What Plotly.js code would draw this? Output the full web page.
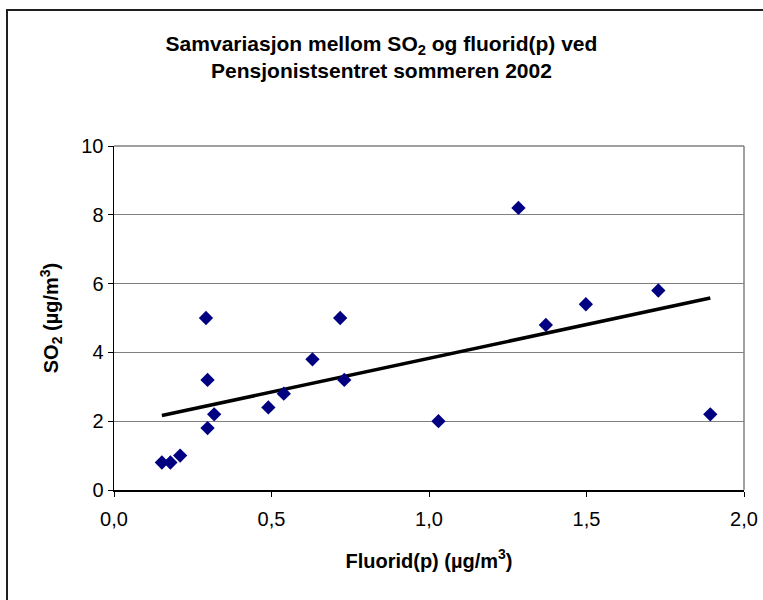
<!DOCTYPE html>
<html>
<head>
<meta charset="utf-8">
<script src="https://cdn.plot.ly/plotly-3.0.1.min.js"></script>
<style>
  html, body { margin: 0; padding: 0; background: #fff; overflow: hidden; }
  #chart { position: absolute; left: 0; top: 0; width: 763px; height: 600px; }
</style>
</head>
<body>
<div id="chart"></div>
<script>
// Fluorid(p) (µg/m3) and SO2 (µg/m3), Pensjonistsentret, sommeren 2002
const fluorid = [0.152, 0.179, 0.21, 0.292, 0.297, 0.318, 0.297, 0.49, 0.539, 0.63, 0.718, 0.731, 1.03, 1.284, 1.371, 1.498, 1.728, 1.893];
const so2     = [0.8,   0.8,   1.0,  5.0,   3.2,   2.2,   1.8,   2.4,  2.8,   3.8,  5.0,   3.2,   2.0,  8.2,   4.8,   5.4,   5.8,   2.2];

const xTickVals = [0, 0.5, 1.0, 1.5, 2.0];
const xTickText = ['0,0', '0,5', '1,0', '1,5', '2,0'];
const yTickVals = [0, 2, 4, 6, 8, 10];

// Linear trendline (least squares) computed from the data
const n = fluorid.length;
const mx = fluorid.reduce((a, b) => a + b, 0) / n;
const my = so2.reduce((a, b) => a + b, 0) / n;
let sxy = 0, sxx = 0;
for (let i = 0; i < n; i++) { sxy += (fluorid[i] - mx) * (so2[i] - my); sxx += (fluorid[i] - mx) ** 2; }
const slope = sxy / sxx, icpt = my - slope * mx;
const xMin = Math.min(...fluorid), xMax = Math.max(...fluorid);
const trendX = [xMin, xMax];
const trendY = trendX.map(v => icpt + slope * v);

const FONT = 'Liberation Sans, Arial, sans-serif';

const traces = [
  { x: trendX, y: trendY, mode: 'lines', type: 'scatter',
    line: { color: '#000000', width: 3.5 }, hoverinfo: 'skip', showlegend: false },
  { x: fluorid, y: so2, mode: 'markers', type: 'scatter',
    marker: { symbol: 'diamond', color: '#000080', size: 11, line: { width: 0 } }, showlegend: false }
];

const layout = {
  width: 763, height: 600,
  paper_bgcolor: '#ffffff', plot_bgcolor: '#ffffff',
  margin: { l: 114, r: 19, t: 146, b: 110 },
  font: { family: FONT, color: '#000000', size: 20 },
  showlegend: false,
  title: {
    text: '<b>Samvariasjon mellom SO<sub>2</sub> og fluorid(p) ved<br>Pensjonistsentret sommeren 2002</b>',
    font: { family: FONT, size: 21, color: '#000000' },
    x: 0.5, xanchor: 'center', xref: 'container',
    y: 0.915, yanchor: 'middle', yref: 'container'
  },
  xaxis: {
    range: [0, 2], tickvals: xTickVals, ticktext: xTickText,
    ticks: 'outside', ticklen: 5, tickwidth: 1, tickcolor: '#000000',
    ticklabelstandoff: 5,
    showline: true, linecolor: '#000000', linewidth: 1.5, mirror: false,
    showgrid: false, zeroline: false,
    tickfont: { family: FONT, size: 20, color: '#000000' },
    title: { text: '<b>Fluorid(p) (µg/m<sup>3</sup>)</b>', font: { family: FONT, size: 20, color: '#000000' }, standoff: 25 }
  },
  yaxis: {
    range: [0, 10], tickvals: yTickVals,
    ticks: 'outside', ticklen: 5, tickwidth: 1, tickcolor: '#000000',
    showline: true, linecolor: '#000000', linewidth: 1.5,
    showgrid: true, gridcolor: '#808080', gridwidth: 1, zeroline: false,
    tickfont: { family: FONT, size: 20, color: '#000000' },
    title: { text: '<b>SO<sub>2</sub> (µg/m<sup>3</sup>)</b>', font: { family: FONT, size: 20, color: '#000000' }, standoff: 17 }
  },
  shapes: [
    // plot-area border (top and right)
    { type: 'line', xref: 'paper', yref: 'paper', x0: 0, x1: 1, y0: 1, y1: 1, line: { color: '#808080', width: 1.5 } },
    { type: 'line', xref: 'paper', yref: 'paper', x0: 1, x1: 1, y0: 0, y1: 1, line: { color: '#808080', width: 1.5 } },
    // outer chart frame (cropped at right and bottom)
    { type: 'rect', xref: 'paper', yref: 'paper',
      x0: (7 - 114) / 630, x1: 1.2, y0: (600 - 110 - 10) / 344 , y1: -0.5,
      line: { color: '#202020', width: 2 }, fillcolor: 'rgba(0,0,0,0)', layer: 'below' }
  ]
};

Plotly.newPlot('chart', traces, layout, { displayModeBar: false, staticPlot: true });
</script>
</body>
</html>
